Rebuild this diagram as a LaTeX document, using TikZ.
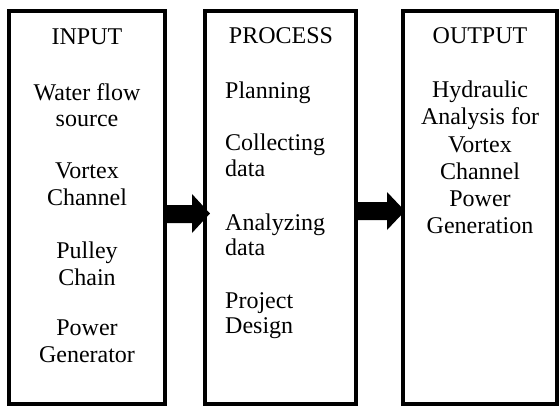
\documentclass[tikz,border=0pt]{standalone}
\usepackage{fontspec}
\setmainfont{Liberation Serif}
\usetikzlibrary{calc}
\begin{document}
\begin{tikzpicture}[x=1pt,y=1pt,
  frame/.style={draw, line width=4.5pt, inner sep=0pt, outer sep=0pt,
                minimum width=#1, minimum height=393pt},
  lbl/.style={anchor=base, inner sep=0pt, font=\fontsize{24}{27}\selectfont},
  lbll/.style={lbl, anchor=base west}]
\useasboundingbox (0,0) rectangle (559,-410);

% the three stages
\node[frame=156pt] (in)   at (87,-207.5)  {};
\node[frame=151pt] (proc) at (280.5,-207.5) {};
\node[frame=154pt] (out)  at (480,-207.5) {};

% input column
\node[lbl] (inT)  at (87,-44)  {INPUT};
\node[lbl] (in1a) at (87,-100) {Water flow};
\node[lbl] (in1b) at (87,-126) {source};
\node[lbl] (in2a) at (87,-178) {Vortex};
\node[lbl] (in2b) at (87,-205) {Channel};
\node[lbl] (in3a) at (87,-258) {Pulley};
\node[lbl] (in3b) at (87,-285) {Chain};
\node[lbl] (in4a) at (87,-335) {Power};
\node[lbl] (in4b) at (87,-362) {Generator};

% process column
\node[lbl]  (prT)  at (281,-43)  {PROCESS};
\node[lbll] (pr1)  at (225,-98)  {Planning};
\node[lbll] (pr2a) at (225,-150) {Collecting};
\node[lbll] (pr2b) at (225,-176) {data};
\node[lbll] (pr3a) at (225,-230) {Analyzing};
\node[lbll] (pr3b) at (225,-255) {data};
\node[lbll] (pr4a) at (225,-308) {Project};
\node[lbll] (pr4b) at (225,-333) {Design};

% output column
\node[lbl] (ouT) at (480,-43)  {OUTPUT};
\node[lbl] (ou1) at (480,-97)  {Hydraulic};
\node[lbl] (ou2) at (480,-124) {Analysis for};
\node[lbl] (ou3) at (480,-152) {Vortex};
\node[lbl] (ou4) at (480,-179) {Channel};
\node[lbl] (ou5) at (480,-206) {Power};
\node[lbl] (ou6) at (480,-233) {Generation};

% block arrows between the stages
\fill ($(in.east)+(-1,2.5)$) -- ($(proc.west)+(-13,2.5)$)
  -- ($(proc.west)+(-13,13.5)$) -- ($(proc.west)+(5,-6)$)
  -- ($(proc.west)+(-13,-25.5)$) -- ($(proc.west)+(-13,-15.5)$)
  -- ($(in.east)+(-1,-15.5)$) -- cycle;
\fill ($(proc.east)+(-1,5.5)$) -- ($(out.west)+(-16,5.5)$)
  -- ($(out.west)+(-16,15.5)$) -- ($(out.west)+(2,-3.5)$)
  -- ($(out.west)+(-16,-22.5)$) -- ($(out.west)+(-16,-12.5)$)
  -- ($(proc.east)+(-1,-12.5)$) -- cycle;
\end{tikzpicture}
\end{document}
